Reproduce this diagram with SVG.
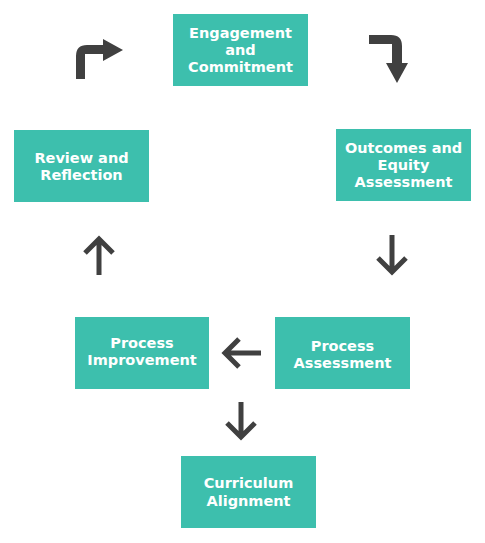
<svg xmlns="http://www.w3.org/2000/svg" width="485" height="543" viewBox="0 0 485 543">
<style>
.box{fill:#3dbfad}
.t{font-family:"DejaVu Sans",Verdana,sans-serif;font-weight:bold;font-size:14.5px;fill:#ffffff;text-anchor:middle}
.ln{fill:none;stroke:#404040;stroke-width:5;stroke-linecap:butt;stroke-linejoin:miter}
.fa{fill:#404040}
</style>
<rect width="485" height="543" fill="#ffffff"/>
<g id="engagement"><rect class="box" x="173" y="14" width="135" height="72"/>
<text class="t" x="240.5" y="38">Engagement</text><text class="t" x="240.5" y="55">and</text><text class="t" x="240.5" y="72">Commitment</text></g>
<g id="outcomes"><rect class="box" x="336" y="129" width="135" height="72"/>
<text class="t" x="403.5" y="153">Outcomes and</text><text class="t" x="403.5" y="170">Equity</text><text class="t" x="403.5" y="187">Assessment</text></g>
<g id="process-assessment"><rect class="box" x="275" y="317" width="135" height="72"/>
<text class="t" x="342.5" y="351">Process</text><text class="t" x="342.5" y="368">Assessment</text></g>
<g id="process-improvement"><rect class="box" x="75" y="317" width="134" height="72"/>
<text class="t" x="142" y="348">Process</text><text class="t" x="142" y="365">Improvement</text></g>
<g id="curriculum"><rect class="box" x="181" y="456" width="135" height="72"/>
<text class="t" x="248.5" y="488">Curriculum</text><text class="t" x="248.5" y="506">Alignment</text></g>
<g id="review"><rect class="box" x="14" y="130" width="135" height="72"/>
<text class="t" x="81.5" y="163">Review and</text><text class="t" x="81.5" y="180">Reflection</text></g>
<g id="connectors">
<path class="fa" d="M369,35 L391,35 Q402,35 402,46 L402,63 L408,63 L397,83 L386,63 L392,63 L392,44 L369,44 Z"/>
<path class="ln" d="M392,235 L392,272 M378,258 L392,272 L406,258"/>
<path class="ln" d="M261,353 L225,353 M239,339 L225,353 L239,367"/>
<path class="ln" d="M241,402 L241,437 M227,423 L241,437 L255,423"/>
<path class="ln" d="M99,275 L99,239 M85,253 L99,239 L113,253"/>
<path class="fa" d="M76,79 L76,56 Q76,45 87,45 L103,45 L103,39 L123,50 L103,61 L103,54 L85,54 L85,79 Z"/>
</g>
</svg>
